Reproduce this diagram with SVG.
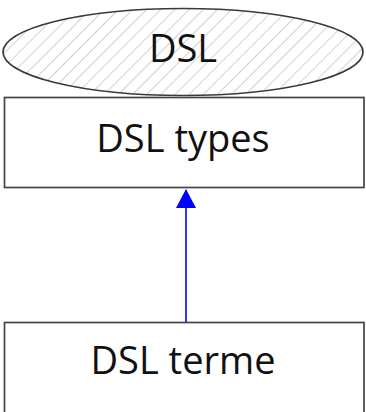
<svg xmlns="http://www.w3.org/2000/svg" width="366" height="412" viewBox="0 0 366 412">
  <defs>
    <!-- diagonal hatch fill for the package ellipse -->
    <pattern id="hatch" patternUnits="userSpaceOnUse" width="10" height="10" patternTransform="rotate(45)">
      <line x1="0" y1="0" x2="0" y2="10" stroke="#b8b8b8" stroke-width="1.3"/>
    </pattern>
    <marker id="arrow" viewBox="0 0 20 19" refX="10" refY="1" markerWidth="20" markerHeight="19" markerUnits="userSpaceOnUse" orient="0">
      <path d="M10,0 L20,19 L0,19 Z" fill="#0000ff"/>
    </marker>
  </defs>
  <style>
    .box { fill: #ffffff; stroke: #444444; stroke-width: 1.7; }
    .label { font-family: "Open Sans", "Liberation Sans", sans-serif; fill: #111111; text-anchor: middle; }
    .edge { stroke: #0000ff; stroke-width: 1.6; fill: none; }
  </style>

  <g id="dsl">
    <ellipse cx="183" cy="52" rx="180" ry="43.5" fill="url(#hatch)" stroke="#3a3a3a" stroke-width="1.7"/>
    <text class="label" x="183" y="62" font-size="38">DSL</text>
  </g>

  <g id="dsl-types">
    <rect class="box" x="4.5" y="97.5" width="359.5" height="90"/>
    <text class="label" x="183" y="152" font-size="38">DSL types</text>
  </g>

  <g id="dsl-terme">
    <rect class="box" x="4.5" y="322.5" width="359.5" height="100"/>
    <text class="label" x="183" y="374" font-size="38">DSL terme</text>
  </g>

  <g id="connectors">
    <line class="edge" x1="186" y1="322" x2="186" y2="190" marker-end="url(#arrow)"/>
  </g>
</svg>
